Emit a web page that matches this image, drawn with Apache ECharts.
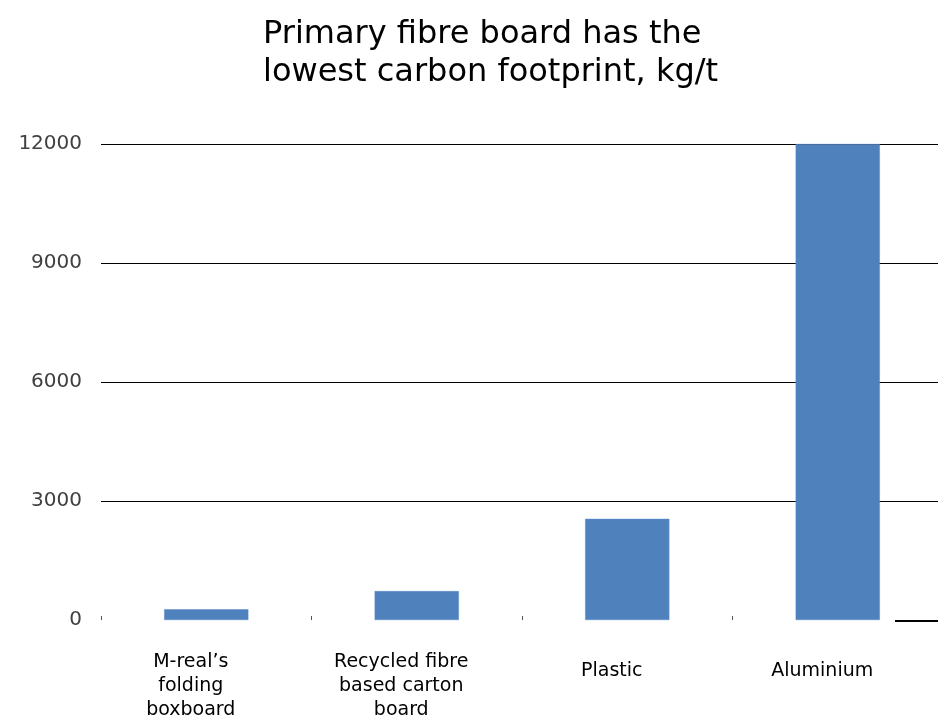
<!DOCTYPE html>
<html>
<head>
<meta charset="utf-8">
<script src="https://cdn.jsdelivr.net/npm/echarts@6/dist/echarts.min.js"></script>
<style>html,body{margin:0;padding:0;background:#fff;}#c{width:938px;height:723px;}</style>
</head>
<body>
<div id="c"></div>
<script>
const titleText = 'Primary fibre board has the\nlowest carbon footprint, kg/t';
const categories = ["M-real\u2019s\nfolding\nboxboard", "Recycled fibre\nbased carton\nboard", "Plastic", "Aluminium"];
const footprint = [270, 730, 2550, 12000];
const yTicks = { min: 0, max: 12000, interval: 3000 };

const FONT = 'DejaVu Sans';
const chart = echarts.init(document.getElementById('c'), null, { renderer: 'canvas' });

const catData = categories.map(c => {
  const lines = c.split('\n').length;
  return lines === 1 ? { value: c, textStyle: { padding: [9, 31, 0, 0] } } : c;
});

chart.setOption({
  backgroundColor: '#ffffff',
  animation: false,
  title: {
    text: titleText,
    left: 263,
    top: 16,
    padding: 0,
    textStyle: { fontFamily: FONT, fontSize: 32, fontWeight: 'normal', color: '#000', lineHeight: 38, align: 'left' }
  },
  grid: { left: 101, width: 842, top: 144, bottom: 103, containLabel: false, outerBoundsMode: 'none' },
  xAxis: {
    type: 'category',
    data: catData,
    axisLine: { show: false },
    axisTick: { show: true, inside: true, length: 4, lineStyle: { color: '#555', width: 1 } },
    axisLabel: { fontFamily: FONT, fontSize: 19, color: '#000', lineHeight: 24, margin: 30, interval: 0, padding: [0, 31, 0, 0] },
    splitLine: { show: false }
  },
  yAxis: {
    type: 'value',
    min: yTicks.min, max: yTicks.max, interval: yTicks.interval,
    axisLine: { show: false },
    axisTick: { show: false },
    axisLabel: { fontFamily: FONT, fontSize: 20, color: '#404040', margin: 19, formatter: v => String(v) },
    splitLine: { show: true, lineStyle: { color: ['rgba(0,0,0,0)', '#000', '#000', '#000', '#000'], width: 1 } }
  },
  series: [{
    type: 'bar',
    data: footprint,
    barWidth: '40%',
    itemStyle: { color: '#4F81BD', borderColor: '#5B8CC8', borderWidth: 0.5 }
  }],
  graphic: [{
    type: 'line',
    shape: { x1: 895, y1: 621, x2: 938, y2: 621 },
    style: { stroke: '#000', lineWidth: 2 }
  }]
});
</script>
</body>
</html>
